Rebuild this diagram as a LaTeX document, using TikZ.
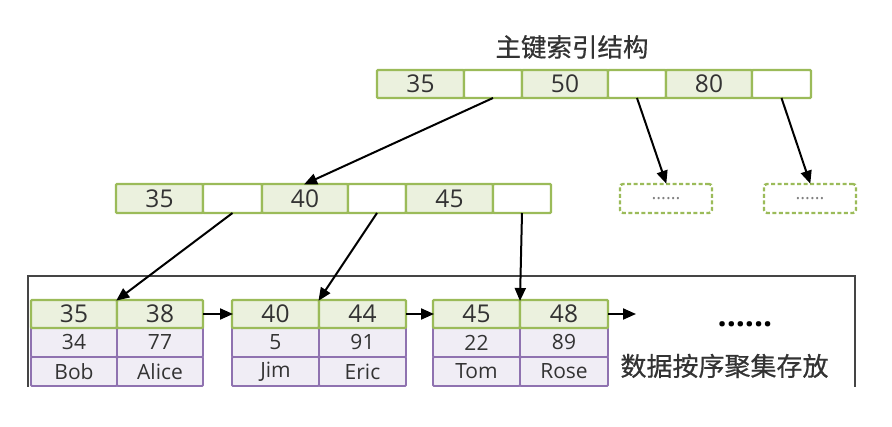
\documentclass[tikz,border=0pt]{standalone}
\usepackage{fontspec}
\setmainfont{Open Sans}
\newfontfamily\cjk[FakeBold=0.6]{Noto Sans CJK SC}
\usetikzlibrary{arrows.meta}
\definecolor{kgreen}{HTML}{9BBB59}
\definecolor{kgreenfill}{HTML}{EBF1DE}
\definecolor{kpurple}{HTML}{8F72B0}
\definecolor{kpurplefill}{HTML}{F0EDF5}
\definecolor{txt}{HTML}{333333}
\definecolor{framec}{HTML}{454545}
\tikzset{
  cellbase/.style={line width=2.2pt, inner sep=0pt, outer sep=0pt, text=txt, rounded corners=1pt},
  keycell/.style={cellbase, draw=kgreen, fill=kgreenfill, font=\fontsize{24.5}{28}\selectfont},
  ptrcell/.style={cellbase, draw=kgreen, fill=white},
  datacell/.style={cellbase, draw=kpurple, fill=kpurplefill, line width=1.9pt, font=\fontsize{21}{24}\selectfont},
  dashbox/.style={draw=kgreen, line width=2.4pt, dash pattern=on 4pt off 2.5pt, rounded corners=3pt,
     minimum width=92pt, minimum height=29pt, inner sep=0pt, text=gray, font=\fontsize{18}{22}\selectfont},
  link/.style={-{Triangle[length=13pt,width=11pt]}, line width=2pt, black, shorten >=-1pt},
}
\begin{document}
\begin{tikzpicture}[x=1pt,y=-1pt]
\useasboundingbox (0,0) rectangle (892,427);
% title
\node[font=\cjk\fontsize{25.5}{30}\selectfont, text=txt] (title) at (572,47) {主键索引结构};
% top row
\node[keycell, minimum width=87pt, minimum height=28pt] (t1) at (420.5,84) {35};
\node[ptrcell, minimum width=58pt, minimum height=28pt] (t2) at (493,84) {};
\node[keycell, minimum width=86pt, minimum height=28pt] (t3) at (565,84) {50};
\node[ptrcell, minimum width=58pt, minimum height=28pt] (t4) at (637,84) {};
\node[keycell, minimum width=86pt, minimum height=28pt] (t5) at (709,84) {80};
\node[ptrcell, minimum width=59pt, minimum height=28pt] (t6) at (781.5,84) {};
% middle row
\node[keycell, minimum width=87pt, minimum height=29pt] (m1) at (159.5,198.5) {35};
\node[ptrcell, minimum width=59pt, minimum height=29pt] (m2) at (232.5,198.5) {};
\node[keycell, minimum width=86pt, minimum height=29pt] (m3) at (305,198.5) {40};
\node[ptrcell, minimum width=58pt, minimum height=29pt] (m4) at (377,198.5) {};
\node[keycell, minimum width=87pt, minimum height=29pt] (m5) at (449.5,198.5) {45};
\node[ptrcell, minimum width=58pt, minimum height=29pt] (m6) at (522,198.5) {};
% dashed boxes
\node[dashbox] (d1) at (666,198.5) {......};
\node[dashbox] (d2) at (810,198.5) {......};
% frame
\draw[framec, line width=1.8pt] (28,387) -- (28,276) -- (855,276) -- (855,387);
% leaves
\foreach \n/\xa/\xb/\wa/\wb/\ka/\kb/\va/\vb/\na/\nb in {
  1/74/160/86/86/35/38/34/77/Bob/Alice,
  2/275.5/362.5/87/87/40/44/5/91/Jim/Eric,
  3/476.5/564/87/88/45/48/22/89/Tom/Rose}{
  \node[datacell, minimum width=\wa pt, minimum height=29pt] (l\n av) at (\xa,342.5) {\va};
  \node[datacell, minimum width=\wb pt, minimum height=29pt] (l\n bv) at (\xb,342.5) {\vb};
  \node[datacell, minimum width=\wa pt, minimum height=29pt] (l\n an) at (\xa,371.5) {\na};
  \node[datacell, minimum width=\wb pt, minimum height=29pt] (l\n bn) at (\xb,371.5) {\nb};
  \node[keycell, minimum width=\wa pt, minimum height=28pt] (l\n a) at (\xa,314) {\ka};
  \node[keycell, minimum width=\wb pt, minimum height=28pt] (l\n b) at (\xb,314) {\kb};
}
\coordinate (lend) at (635,314);
\node[font=\fontsize{32}{36}\selectfont\bfseries, anchor=base] (more) at (745,327) {......};
\node[font=\cjk\fontsize{26}{30}\selectfont, text=txt] (note) at (724.5,366) {数据按序聚集存放};
% arrows
\draw[link] (t2.south) -- (m3.north);
\draw[link] (t4.south) -- (d1.north);
\draw[link] (t6.south) -- (d2.north);
\draw[link] (m2.south) -- (l1b.north west);
\draw[link] (m4.south) -- (l2b.north west);
\draw[link] (m6.south) -- (l3b.north west);
\draw[link] (l1b.east) -- (l2a.west);
\draw[link] (l2b.east) -- (l3a.west);
\draw[link] (l3b.east) -- (lend);
\end{tikzpicture}
\end{document}
